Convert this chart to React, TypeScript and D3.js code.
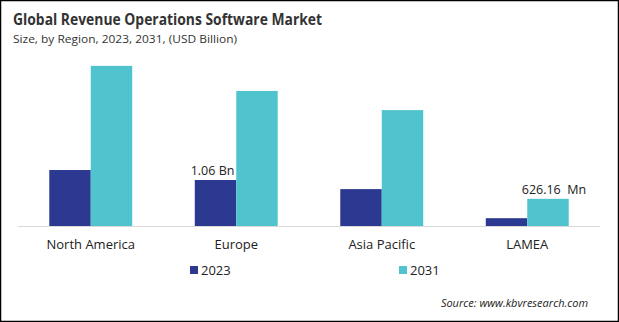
import React from "react";
import * as d3 from "d3";

const categories = ["North America", "Europe", "Asia Pacific", "LAMEA"];
const series = ["2023", "2031"];
const values2023 = [1.29, 1.06, 0.85, 0.18];
const values2031 = [3.69, 3.11, 2.67, 0.626];
const labels2023 = ["", "1.06 Bn", "", ""];
const labels2031 = ["", "", "", "626.16  Mn"];
const colors = ["#2B3990", "#4FC4CF"];

const W = 619;
const H = 322;

export default function App() {
  const x = d3
    .scaleBand<string>()
    .domain(categories)
    .range([18, 600])
    .paddingInner(0.43)
    .paddingOuter(0.215);
  const xs = d3.scaleBand<string>().domain(series).range([0, x.bandwidth()]);
  const y = d3.scaleLinear().domain([0, 1]).range([226, 226 - 43.4]);
  const data = [values2023, values2031];
  const lbls = [labels2023, labels2031];
  const font = "'Open Sans', sans-serif";

  return (
    <svg
      width={W}
      height={H}
      style={{ position: "absolute", left: 0, top: 0, background: "#fff" }}
      fontFamily={font}
    >
      <rect x={0.5} y={0.5} width={W - 1} height={H - 1} fill="#fff" stroke="#000" strokeWidth={1.5} />
      <text x={13} y={25} fontSize={15.5} fontWeight={700} fill="#333" textLength={309} lengthAdjust="spacingAndGlyphs">
        Global Revenue Operations Software Market
      </text>
      <text x={13} y={43} fontSize={11.5} fill="#333" textLength={224} lengthAdjust="spacingAndGlyphs">
        Size, by Region, 2023, 2031, (USD Billion)
      </text>
      <line x1={18} x2={600} y1={226.5} y2={226.5} stroke="#d9d9d9" strokeWidth={1} />
      {series.map((s, si) =>
        categories.map((c, ci) => {
          const v = data[si][ci];
          const bx = (x(c) ?? 0) + (xs(s) ?? 0);
          return (
            <g key={s + c}>
              <rect x={bx} y={y(v)} width={xs.bandwidth()} height={y(0) - y(v)} fill={colors[si]} />
              {lbls[si][ci] && (
                <text
                  x={bx + xs.bandwidth() / 2 + (si === 1 ? 6 : -3)}
                  y={y(v) - 5}
                  textAnchor="middle"
                  fontSize={12.5}
                  fill="#222"
                  style={{ whiteSpace: "pre" }}
                >
                  {lbls[si][ci]}
                </text>
              )}
            </g>
          );
        })
      )}
      {categories.map((c) => (
        <text
          key={c}
          x={(x(c) ?? 0) + x.bandwidth() / 2}
          y={249}
          textAnchor="middle"
          fontSize={13}
          fill="#222"
        >
          {c}
        </text>
      ))}
      {series.map((s, i) => (
        <g key={s} transform={`translate(${190 + i * 209},266)`}>
          <rect x={0} y={0} width={8} height={8} fill={colors[i]} />
          <text x={11} y={8.5} fontSize={13} fill="#222">
            {s}
          </text>
        </g>
      ))}
      <text x={588} y={307} textAnchor="end" fontSize={11} fontStyle="italic" fill="#222">
        Source: www.kbvresearch.com
      </text>
    </svg>
  );
}
